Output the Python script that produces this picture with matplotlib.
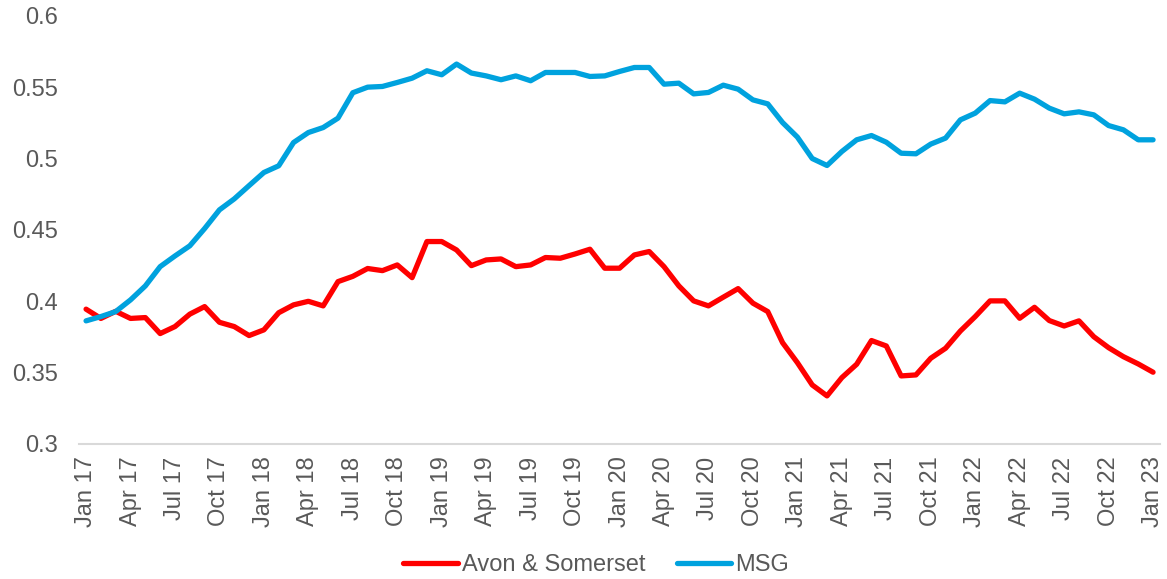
import matplotlib
matplotlib.use("Agg")
import matplotlib.pyplot as plt
from matplotlib.ticker import FuncFormatter, FixedLocator

plt.rcParams["font.family"] = ["Liberation Sans", "DejaVu Sans"]

# Monthly values, Jan 2017 .. Jan 2023
years = [17, 18, 19, 20, 21, 22, 23]
month_names = ["Jan", "Feb", "Mar", "Apr", "May", "Jun",
               "Jul", "Aug", "Sep", "Oct", "Nov", "Dec"]
months = [f"{m} {y}" for y in years for m in month_names][:73]

avon_somerset = [
    0.3945, 0.388, 0.393, 0.388, 0.3886, 0.3774, 0.3823, 0.391, 0.3963, 0.3853,
    0.3823, 0.376, 0.380, 0.392, 0.3975, 0.400, 0.3968, 0.4138, 0.4175, 0.423,
    0.4215, 0.4255, 0.4166, 0.4419, 0.4419, 0.436, 0.425, 0.429, 0.4297, 0.4243,
    0.4255, 0.4307, 0.4302, 0.4332, 0.4365, 0.4232, 0.4232, 0.4325, 0.4349, 0.4243,
    0.4108, 0.4003, 0.3968, 0.4029, 0.4089, 0.3987, 0.3928, 0.371, 0.357, 0.3414,
    0.3337, 0.3465, 0.3559, 0.3725, 0.3687, 0.3477, 0.3484, 0.3601, 0.3671, 0.3792,
    0.3893, 0.4003, 0.4003, 0.3881, 0.3958, 0.3865, 0.3827, 0.3863, 0.3752, 0.3675,
    0.3612, 0.3561, 0.3503,
]

msg = [
    0.3863, 0.3893, 0.3928, 0.401, 0.4108, 0.4243, 0.4318, 0.4389, 0.451, 0.4641,
    0.4718, 0.4811, 0.4903, 0.495, 0.5113, 0.5183, 0.5218, 0.5284, 0.5462, 0.5501,
    0.5506, 0.5534, 0.5564, 0.5616, 0.5588, 0.5663, 0.560, 0.558, 0.5553, 0.558,
    0.5546, 0.5604, 0.5604, 0.5604, 0.5576, 0.558, 0.5611, 0.5639, 0.5639, 0.5522,
    0.5529, 0.5454, 0.5464, 0.5515, 0.5487, 0.5412, 0.5384, 0.5253, 0.5151, 0.5001,
    0.4952, 0.505, 0.5132, 0.5162, 0.5115, 0.5038, 0.5034, 0.5102, 0.5144, 0.5272,
    0.5319, 0.5407, 0.5398, 0.5459, 0.5417, 0.5354, 0.5314, 0.5328, 0.5307, 0.5232,
    0.5202, 0.5132, 0.5132,
]

RED = "#FF0000"
BLUE = "#00A2DE"
TEXT = "#595959"

fig = plt.figure(figsize=(11.67, 5.79), dpi=100)
ax = fig.add_axes([0.0674, 0.2332, 0.927, 0.7392])

x = list(range(len(months)))
ax.plot(x, avon_somerset, color=RED, linewidth=3.8, label="Avon & Somerset",
        solid_capstyle="round", solid_joinstyle="round")
ax.plot(x, msg, color=BLUE, linewidth=3.8, label="MSG",
        solid_capstyle="round", solid_joinstyle="round")

ax.set_xlim(-0.5, len(months) - 0.5)
ax.set_ylim(0.3, 0.6)
ax.set_yticks([0.3, 0.35, 0.4, 0.45, 0.5, 0.55, 0.6])
ax.yaxis.set_major_formatter(FuncFormatter(lambda v, p: f"{v:g}"))

tick_pos = x[::3]
ax.xaxis.set_major_locator(FixedLocator(tick_pos))
ax.set_xticklabels([months[i] for i in tick_pos], rotation=90)

for s in ("top", "right", "left"):
    ax.spines[s].set_visible(False)
ax.spines["bottom"].set_color("#D9D9D9")
ax.spines["bottom"].set_linewidth(1.5)

ax.tick_params(axis="both", length=0, labelsize=17, labelcolor=TEXT)
ax.tick_params(axis="y", pad=15)
ax.tick_params(axis="x", pad=9)

leg = fig.legend(loc="lower center", bbox_to_anchor=(0.511, -0.032), ncol=2,
                 frameon=False, fontsize=17, handlelength=2.3,
                 handletextpad=0.2, columnspacing=1.3)
for t in leg.get_texts():
    t.set_color(TEXT)

fig.savefig("out.png", dpi=100)
